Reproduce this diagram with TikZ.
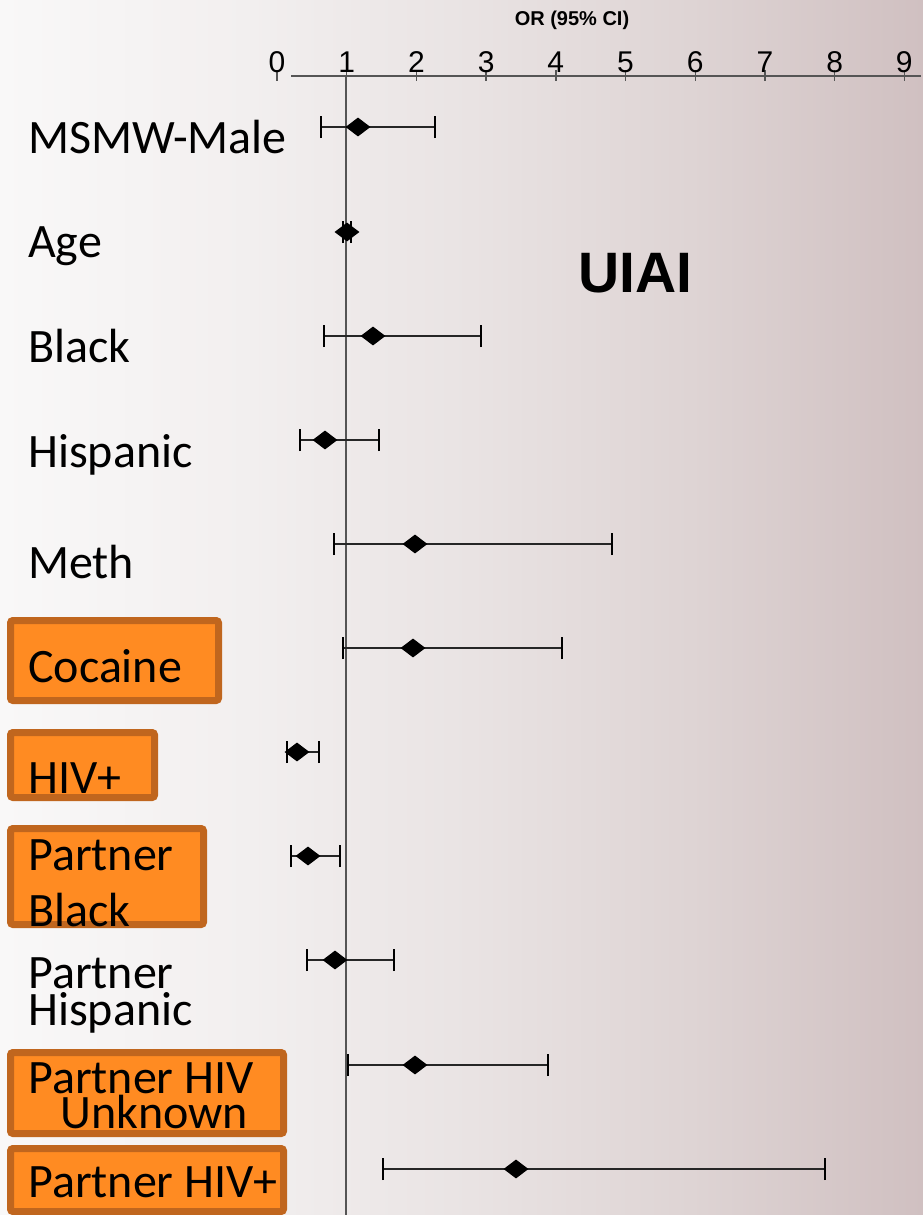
\documentclass[tikz,border=0pt]{standalone}
\usepackage{fontspec}
\setmainfont{Carlito}
\newfontfamily\arialf{Liberation Sans}
\usetikzlibrary{shapes.geometric}
\definecolor{bgA}{HTML}{F9F8F8}
\definecolor{bgB}{HTML}{F2EFEF}
\definecolor{bgC}{HTML}{E9E3E3}
\definecolor{bgD}{HTML}{DED4D4}
\definecolor{bgE}{HTML}{D0C0C1}
\definecolor{boxfill}{HTML}{FF8B22}
\definecolor{boxline}{HTML}{C0661E}
\definecolor{axisgray}{HTML}{555555}
\pgfdeclarehorizontalshading{bgshade}{100bp}{color(0bp)=(bgA); color(25bp)=(bgA); color(38.5bp)=(bgB); color(50.5bp)=(bgC); color(62.4bp)=(bgD); color(75bp)=(bgE); color(100bp)=(bgE)}
\newcommand\cirow[5]{%
  \coordinate (#1lo) at (#3,#2);
  \coordinate (#1hi) at (#5,#2);
  \draw[ciline] (#1lo) -- (#1hi);
  \draw[errcap] ([yshift=-11pt]#1lo) -- ([yshift=11pt]#1lo);
  \draw[errcap] ([yshift=-11pt]#1hi) -- ([yshift=11pt]#1hi);
  \node[est] (#1est) at (#4,#2) {};
}
\begin{document}
\begin{tikzpicture}[x=1pt,y=-1pt,
  ciline/.style={line width=1.4pt, draw=black!85},
  errcap/.style={line width=2.4pt, draw=black},
  est/.style={diamond, fill=black, draw=none, inner sep=0pt, minimum width=25pt, minimum height=19pt},
  orbox/.style={rectangle, rounded corners=2.5pt, line width=7pt, draw=boxline, fill=boxfill, inner sep=0pt},
  lab/.style={anchor=base west, inner sep=0pt, align=left, font=\fontsize{48}{48}\selectfont},
  ticklab/.style={anchor=base, inner sep=0pt, font=\arialf\fontsize{30}{30}\selectfont},
  tickmark/.style={line width=1.4pt, draw=axisgray}]
\useasboundingbox (0,0) rectangle (923,1215);
\shade[shading=bgshade] (0,0) rectangle (923,1215);

% axis
\coordinate (axL) at (291,76);
\coordinate (axR) at (921,76);
\draw[line width=1.4pt, draw=axisgray] (axL) -- (axR);
\foreach \i in {0,...,9} {
  \coordinate (t\i) at ({277+69.7*\i},76);
  \draw[tickmark] ([yshift=6pt]t\i) -- ([yshift=-5pt]t\i);
  \node[ticklab] (tl\i) at ({277+69.7*\i},72) {\i};
}
\node[anchor=base, inner sep=0pt, font=\arialf\bfseries\fontsize{20}{20}\selectfont] (ortitle) at (572,26) {OR (95\% CI)};
\coordinate (refTop) at (346,76);
\coordinate (refBot) at (346,1215);
\draw[line width=1.5pt, draw=axisgray] (refTop) -- (refBot);

\node[anchor=base, inner sep=0pt, font=\arialf\bfseries\fontsize{57}{57}\selectfont] (uiai) at (635,292) {UIAI};

% orange boxes
\node[orbox, minimum width=208pt, minimum height=80pt] (bcoc) at (114.5,660.5) {};
\node[orbox, minimum width=144pt, minimum height=65pt] (bhiv) at (82.5,765) {};
\node[orbox, minimum width=193pt, minimum height=96pt] (bpblack) at (107,876.5) {};
\node[orbox, minimum width=273pt, minimum height=81pt] (bpunk) at (147,1093) {};
\node[orbox, minimum width=273pt, minimum height=63pt] (bphiv) at (147,1180) {};

% labels
\node[lab] (lmsmw) at (28,153) {MSMW-Male};
\node[lab] (lage) at (28,257) {Age};
\node[lab] (lblack) at (28,362) {Black};
\node[lab] (lhisp) at (28,467) {Hispanic};
\node[lab] (lmeth) at (28,578) {Meth};
\node[lab] (lcoc) at (28,682) {Cocaine};
\node[lab] (lhiv) at (28,793) {HIV+};
\node[lab, font=\fontsize{48}{56}\selectfont] (lpblack) at (28,926) {Partner\\Black};
\node[lab, font=\fontsize{48}{37}\selectfont] (lphisp) at (28,1025) {Partner\\Hispanic};
\node[lab, font=\fontsize{48}{35}\selectfont] (lpunk) at (28,1128) {Partner HIV\\\hspace*{32pt}Unknown};
\node[lab] (lphiv) at (28,1197) {Partner HIV+};

% confidence intervals
\cirow{msmw}{127}{321}{358}{435}
\cirow{age}{232}{343}{347}{351}
\cirow{black}{336}{324}{373}{481}
\cirow{hisp}{440}{300}{325}{379}
\cirow{meth}{544}{334}{415}{612}
\cirow{coc}{648}{343}{413}{562}
\cirow{hiv}{752}{287}{297}{319}
\cirow{pblack}{856}{291}{308}{340}
\cirow{phisp}{960}{307}{335}{394}
\cirow{punk}{1065}{348}{415}{548}
\cirow{phiv}{1169}{383}{516}{825}
\end{tikzpicture}
\end{document}
